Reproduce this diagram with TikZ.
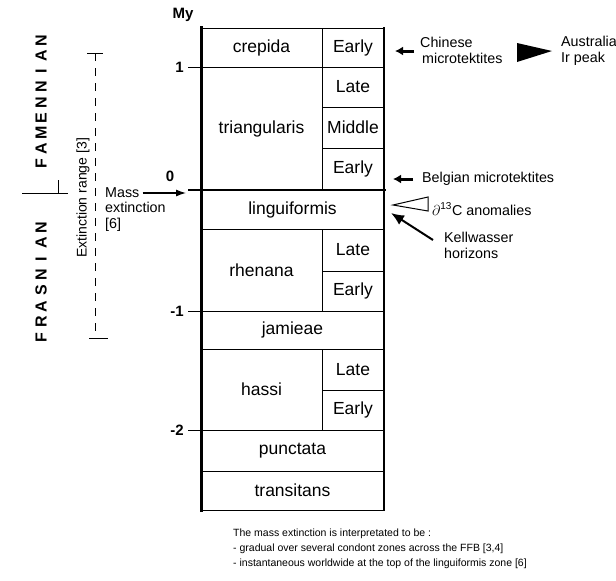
\documentclass[tikz,border=0pt]{standalone}
\usepackage{fontspec}
\setmainfont{Liberation Sans}
\usetikzlibrary{calc,arrows.meta}
\tikzset{
	% boxes of the conodont zones and the texts round them
	zone box/.style={draw,line width=1pt,inner sep=0pt,font=\fontsize{17.5}{20}\selectfont},
	note/.style={font=\fontsize{14.3}{16}\selectfont,align=left,inner sep=0pt,anchor=west},
	tick label/.style={font=\bfseries\fontsize{15}{17}\selectfont,inner sep=0pt},
	stage letter/.style={font=\bfseries\fontsize{16}{18}\selectfont,rotate=90,inner sep=0pt},
	tektite mark/.style={line width=3pt,-{Latex[length=8pt,width=9pt]}}
}

\begin{document}
\begin{tikzpicture}[x=1pt,y=-1pt]
			% macro for one zone box, given by its two corners
			\newcommand{\zone}[6]{\node[zone box,minimum width={#4-#2},minimum height={#5-#3}] (#1) at ({(#2+#4)/2},{(#3+#5)/2}) {#6};}
			\useasboundingbox (0,0) rectangle (616,581);
			
			% the column of zones
			\zone{crepida}{201}{28}{322}{67}{crepida}
			\zone{crepida-e}{322}{28}{384}{67}{Early}
			\zone{triang}{201}{67}{322}{190}{triangularis}
			\zone{triang-l}{322}{67}{384}{107}{Late}
			\zone{triang-m}{322}{107}{384}{148}{Middle}
			\zone{triang-e}{322}{148}{384}{190}{Early}
			\zone{lingui}{201}{190}{384}{229}{linguiformis}
			\zone{rhenana}{201}{229}{322}{311}{rhenana}
			\zone{rhenana-l}{322}{229}{384}{271}{Late}
			\zone{rhenana-e}{322}{271}{384}{311}{Early}
			\zone{jamieae}{201}{311}{384}{349}{jamieae}
			\zone{hassi}{201}{349}{322}{430}{hassi}
			\zone{hassi-l}{322}{349}{384}{390}{Late}
			\zone{hassi-e}{322}{390}{384}{430}{Early}
			\zone{punctata}{201}{430}{384}{471}{punctata}
			\zone{transitans}{201}{471}{384}{510}{transitans}
			\draw[line width=3pt] (201,26) -- (201,512);
			\draw[line width=1.6pt] (384,27) -- (384,511);
			\draw[line width=2.5pt] (188,190) -- (386,190);
			
			% time scale
			\node[tick label] (my) at (183,15) {My};
			\foreach \y/\t in {67/1,311/-1,430/-2}{
				\draw[line width=1pt] (188,\y) -- (201,\y);
				\node[tick label,anchor=east] (tick \t) at (184,\y) {\t};
			}
			\node[tick label] (tick 0) at (170,176) {0};
			
			% stages
			\foreach \l [count=\i] in {F,A,M,E,N,N,I,A,N}
				\node[stage letter] (fam-\i) at (41,{164-(\i-1)*15.4}) {\l};
			\foreach \l [count=\i] in {F,R,A,S,N,I,A,N}
				\node[stage letter] (fra-\i) at (41,{338-(\i-1)*15.8}) {\l};
			\draw[line width=1pt] (22,193) -- (68,193);
			\draw[line width=1pt] (58,180) -- (58,193);
			
			% extinction range
			\draw[line width=1pt,dash pattern=on 8pt off 7pt] (95,53) -- (95,338);
			\draw[line width=1pt] (87,53) -- (103,53);
			\draw[line width=1pt] (89,338) -- (108,338);
			\node[font=\fontsize{14}{16}\selectfont,rotate=90,inner sep=0pt] (range) at (83,198) {Extinction range [3]};
			
			% mass extinction
			\node[note] (mass) at (105,193) {Mass};
			\node[note,anchor=north west] (mass-2) at (105,202) {extinction\\{[6]}};
			\coordinate (zero) at (186,193);
			\draw[line width=1.2pt,-{Latex[length=10pt,width=7pt]},shorten <=3pt] (mass.east) -- (zero);
			
			% events on the right
			\coordinate (chinese-a) at (414,51);
			\coordinate (chinese-b) at (395,51);
			\draw[tektite mark] (chinese-a) -- (chinese-b);
			\node[note] (chinese) at (420,50) {Chinese\\\hspace{2pt}microtektites};
			\fill (517,43) -- (517,62) -- (552,51) -- cycle;
			\node[note] (australia) at (561,51) {Australia\\Ir peak};
			\coordinate (belgian-a) at (413,179);
			\coordinate (belgian-b) at (393,179);
			\draw[tektite mark] (belgian-a) -- (belgian-b);
			\node[note] (belgian) at (422,179) {Belgian microtektites};
			\draw[line width=1pt] (393,205) -- (428,197) -- (428,211) -- cycle;
			\node[note] (carbon) at (432,209) {$\partial$\textsuperscript{13}C anomalies};
			\coordinate (kell-a) at (433,240);
			\coordinate (kell-b) at (391,213);
			\draw[line width=2pt,-{Latex[length=13pt,width=11pt]}] (kell-a) -- (kell-b);
			\node[note] (kellwasser) at (444,245) {Kellwasser\\horizons};
			
			% remark below
			\node[anchor=north west,align=left,inner sep=0pt,font=\fontsize{10.5}{15}\selectfont] (remark) at (233,529) {The mass extinction is interpretated to be :\\- gradual over several condont zones across the FFB [3,4]\\- instantaneous worldwide at the top of the linguiformis zone [6]};
		\end{tikzpicture}
\end{document}
